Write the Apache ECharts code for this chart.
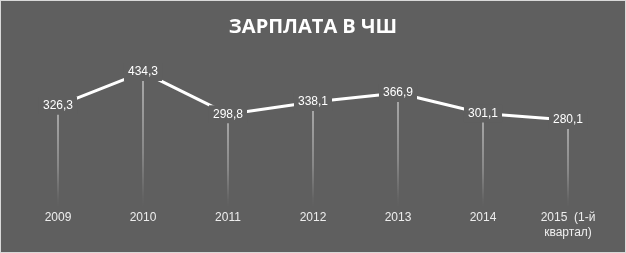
<!DOCTYPE html>
<html>
<head>
<meta charset="utf-8">
<script src="https://cdn.jsdelivr.net/npm/echarts@6/dist/echarts.min.js"></script>
<style>
html,body{margin:0;padding:0;background:#fff;}
#c{width:626px;height:253px;box-sizing:border-box;border:1px solid #d9d9d9;background:#5f5f5f;}
</style>
</head>
<body>
<div id="c"></div>
<script>
const categories = ['2009', '2010', '2011', '2012', '2013', '2014', '2015  (1-й\nквартал)'];
const salary = [326.3, 434.3, 298.8, 338.1, 366.9, 301.1, 280.1];
const titleText = 'ЗАРПЛАТА В ЧШ';

const chart = echarts.init(document.getElementById('c'), null, {renderer: 'canvas'});
chart.setOption({
  backgroundColor: '#5f5f5f',
  animation: false,
  title: {
    text: titleText,
    left: 'center',
    top: 11,
    textStyle: {color: '#ffffff', fontSize: 20, fontWeight: 'bold', fontFamily: 'Open Sans'}
  },
  grid: {left: 14.5, right: 14.5, top: 50.6, bottom: 44.8, containLabel: false},
  xAxis: {
    type: 'category',
    data: categories,
    boundaryGap: true,
    axisLine: {show: false},
    axisTick: {show: false},
    axisLabel: {color: '#eeeeee', fontSize: 12, fontFamily: 'Liberation Sans', margin: 3, lineHeight: 15, interval: 0}
  },
  yAxis: {
    type: 'value', min: 0, max: 500,
    show: false,
    splitLine: {show: false}
  },
  series: [
    {
      type: 'bar',
      data: salary,
      barWidth: 1,
      z: 1,
      itemStyle: {
        color: new echarts.graphic.LinearGradient(0, 0, 0, 1, [
          {offset: 0, color: 'rgba(255,255,255,0.95)'},
          {offset: 0.6, color: 'rgba(255,255,255,0.5)'},
          {offset: 0.92, color: 'rgba(255,255,255,0.05)'},
          {offset: 1, color: 'rgba(255,255,255,0)'}
        ])
      },
      silent: true
    },
    {
      type: 'line',
      data: salary,
      z: 3,
      symbol: 'circle',
      symbolSize: 1,
      itemStyle: {color: '#ffffff'},
      lineStyle: {color: '#ffffff', width: 3},
      label: {
        show: true,
        position: 'inside',
        color: '#ffffff',
        fontSize: 12,
        fontFamily: 'Liberation Sans',
        backgroundColor: '#5f5f5f',
        padding: [3, 4],
        formatter: p => String(p.value).replace('.', ',')
      }
    }
  ]
});
</script>
</body>
</html>
